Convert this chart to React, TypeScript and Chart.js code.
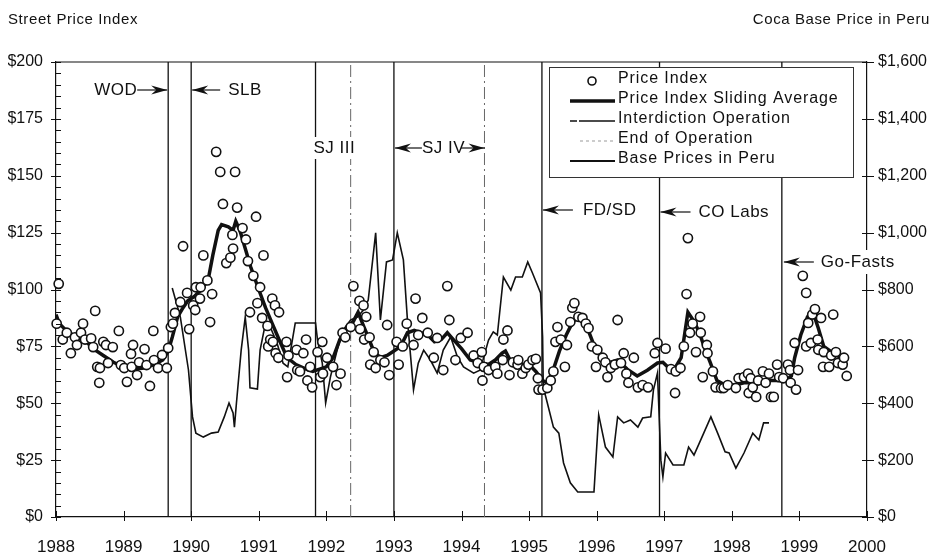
import React, { useEffect, useRef } from 'react';
import { Chart, registerables } from 'chart.js';
Chart.register(...registerables);

// ---------- DATA ----------
const yearTicks = [1988, 1989, 1990, 1991, 1992, 1993, 1994, 1995, 1996, 1997, 1998, 1999, 2000];
const leftTicks = [0, 25, 50, 75, 100, 125, 150, 175, 200];
const rightTicks = [0, 200, 400, 600, 800, 1000, 1200, 1400, 1600];

// Street price index observations (decimal year, index $)
const priceX = [
  1988.01, 1988.04, 1988.10, 1988.16, 1988.22, 1988.28, 1988.31, 1988.37, 1988.40, 1988.43,
  1988.52, 1988.55, 1988.58, 1988.61, 1988.64, 1988.65, 1988.70, 1988.74, 1988.77, 1988.84,
  1988.93, 1988.96, 1989.01, 1989.05, 1989.11, 1989.12, 1989.14, 1989.20, 1989.23, 1989.31,
  1989.34, 1989.39, 1989.44, 1989.45, 1989.51, 1989.57, 1989.64, 1989.66, 1989.70, 1989.73,
  1989.76, 1989.84, 1989.88, 1989.94, 1989.97, 1990.03, 1990.06, 1990.07, 1990.13, 1990.14,
  1990.18, 1990.24, 1990.28, 1990.31, 1990.37, 1990.43, 1990.47, 1990.52, 1990.58, 1990.61,
  1990.62, 1990.65, 1990.68, 1990.76, 1990.81, 1990.84, 1990.87, 1990.92, 1990.96, 1990.98,
  1991.02, 1991.05, 1991.07, 1991.13, 1991.14, 1991.17, 1991.20, 1991.21, 1991.24, 1991.25,
  1991.29, 1991.30, 1991.41, 1991.42, 1991.44, 1991.56, 1991.57, 1991.61, 1991.66, 1991.70,
  1991.72, 1991.76, 1991.79, 1991.87, 1991.91, 1991.94, 1991.95, 1992.01, 1992.10, 1992.15,
  1992.21, 1992.24, 1992.28, 1992.36, 1992.40, 1992.49, 1992.50, 1992.55, 1992.56, 1992.59,
  1992.64, 1992.65, 1992.70, 1992.73, 1992.80, 1992.86, 1992.90, 1992.93, 1993.04, 1993.07,
  1993.13, 1993.19, 1993.29, 1993.32, 1993.36, 1993.42, 1993.50, 1993.59, 1993.64, 1993.73,
  1993.79, 1993.82, 1993.91, 1993.99, 1994.09, 1994.18, 1994.24, 1994.30, 1994.31, 1994.33,
  1994.40, 1994.50, 1994.53, 1994.61, 1994.62, 1994.68, 1994.71, 1994.76, 1994.83, 1994.84,
  1994.90, 1994.95, 1994.99, 1995.05, 1995.10, 1995.13, 1995.14, 1995.20, 1995.27, 1995.32,
  1995.36, 1995.39, 1995.42, 1995.47, 1995.53, 1995.56, 1995.61, 1995.64, 1995.67, 1995.73,
  1995.79, 1995.84, 1995.88, 1995.93, 1995.99, 1996.01, 1996.09, 1996.13, 1996.16, 1996.21,
  1996.27, 1996.31, 1996.36, 1996.40, 1996.44, 1996.47, 1996.55, 1996.61, 1996.68, 1996.76,
  1996.86, 1996.90, 1997.02, 1997.10, 1997.16, 1997.17, 1997.24, 1997.29, 1997.33, 1997.35,
  1997.38, 1997.42, 1997.47, 1997.53, 1997.54, 1997.57, 1997.63, 1997.64, 1997.72, 1997.76,
  1997.84, 1997.88, 1997.94, 1998.06, 1998.10, 1998.18, 1998.24, 1998.25, 1998.28, 1998.31,
  1998.36, 1998.39, 1998.46, 1998.50, 1998.55, 1998.58, 1998.62, 1998.67, 1998.70, 1998.76,
  1998.83, 1998.86, 1998.87, 1998.93, 1998.95, 1998.98, 1999.05, 1999.10, 1999.10, 1999.13,
  1999.17, 1999.19, 1999.23, 1999.27, 1999.28, 1999.32, 1999.35, 1999.36, 1999.44, 1999.47,
  1999.50, 1999.54, 1999.57, 1999.64, 1999.66, 1999.70,
];
const priceY = [
  85, 102.5, 78, 81, 72, 79, 75.6, 81, 85, 78,
  78.5, 74.7, 90.6, 66, 59, 65.5, 77, 75.6, 67.7, 74.7,
  81.8, 66.8, 65.5, 59.4, 71.7, 66, 75.6, 62.4, 68, 73.8,
  66.8, 57.6, 81.8, 69, 65.5, 71.2, 65.5, 74.3, 83.5, 85,
  89.7, 94.5, 119, 98.5, 82.6, 93, 91, 101, 96, 101,
  115, 104, 85.7, 98, 160.5, 151.7, 137.6, 111.6, 114, 124,
  118, 151.7, 136, 127, 122, 112.5, 90, 106, 132, 94,
  101, 87.5, 115, 84, 75, 78, 96, 77, 93, 72,
  70, 90, 77, 61.5, 71, 73.5, 64.6, 64, 72, 78,
  60, 66, 57, 72.5, 61.5, 77, 63, 70, 66, 58,
  63, 81, 79, 83.5, 101.5, 95, 82.6, 93, 78, 88,
  79, 67, 72.5, 65.5, 69, 68, 84.4, 62.4, 77, 67,
  75, 85, 75.6, 96, 80, 87.5, 81, 70, 78.7, 64.6,
  101.5, 86.6, 69, 78.7, 81, 71, 67.7, 72.5, 60, 66,
  64.6, 66, 63, 69, 78, 82, 62.4, 68, 67, 69,
  63, 65.5, 67, 69, 69.5, 61, 56, 56, 56.7, 60,
  64, 77, 83.5, 78, 66, 75.6, 85.7, 92, 94, 88,
  87.5, 85, 83, 75, 66, 73.5, 70, 68, 61.5, 65.5,
  67, 86.6, 67.7, 72, 63, 59, 70, 57, 58, 57,
  72, 76.5, 74, 65, 54.5, 64, 65.5, 75, 98, 122.6,
  81, 85, 72.5, 88, 81, 61.5, 75.6, 72, 64, 57,
  56.7, 56.7, 58, 56.7, 61, 61.5, 63, 54.5, 61, 57,
  52.8, 60, 64, 59, 63, 52.8, 52.8, 67, 61.5, 61,
  67, 64.6, 59, 76.5, 56, 64.6, 106, 98.5, 75, 85.3,
  76.5, 89, 91.4, 78, 73.5, 87.5, 66, 72.5, 66, 71,
  89, 72.5, 67.7, 67, 70, 62,
];

// Sliding average of the price index
const avgX = [
  1988.0, 1988.05, 1988.15, 1988.3, 1988.45, 1988.55, 1988.7, 1988.85, 1989.0, 1989.15,
  1989.3, 1989.45, 1989.58, 1989.66, 1989.72, 1989.8, 1989.88, 1989.95, 1990.05, 1990.15,
  1990.25, 1990.32, 1990.4, 1990.45, 1990.55, 1990.62, 1990.66, 1990.72, 1990.8, 1990.88,
  1991.0, 1991.1, 1991.2, 1991.3, 1991.42, 1991.55, 1991.7, 1991.8, 1991.9, 1992.0,
  1992.1, 1992.2, 1992.3, 1992.4, 1992.47, 1992.55, 1992.62, 1992.7, 1992.8, 1992.9,
  1993.0, 1993.1, 1993.2, 1993.3, 1993.4, 1993.5, 1993.6, 1993.7, 1993.79, 1993.88,
  1994.0, 1994.13, 1994.25, 1994.4, 1994.5, 1994.6, 1994.65, 1994.72, 1994.85, 1995.0,
  1995.1, 1995.2, 1995.27, 1995.35, 1995.45, 1995.55, 1995.65, 1995.76, 1995.85, 1995.98,
  1996.1, 1996.2, 1996.31, 1996.45, 1996.6, 1996.75, 1996.9, 1996.98, 1997.05, 1997.15,
  1997.25, 1997.35, 1997.44, 1997.52, 1997.6, 1997.68, 1997.78, 1997.9, 1998.05, 1998.18,
  1998.38, 1998.53, 1998.68, 1998.8, 1998.88, 1998.93, 1999.02, 1999.12, 1999.2, 1999.28,
  1999.36, 1999.5, 1999.62, 1999.7,
];
const avgY = [
  89, 85, 82, 79, 77, 74, 71, 68, 66, 65,
  65.5, 67, 69, 73, 79, 88, 92, 95, 97, 100,
  104, 115, 126, 128.5, 127.5, 126, 130, 126, 118, 110,
  100, 92, 85, 78, 70, 67, 65, 64, 65, 66,
  70, 78, 83, 86, 90, 84, 79, 73, 70, 71,
  73, 75, 81, 82, 81, 80, 77, 78, 81, 78,
  74, 69, 68, 67, 69, 72, 73, 69, 67, 67,
  64, 60, 59, 64, 73, 80, 86, 88, 84, 74,
  69, 68, 69, 65, 62, 64.5, 67.7, 68, 66, 65,
  70, 90, 86, 81, 74, 68, 60, 58, 58, 59,
  59, 60, 60, 60, 62, 70, 80, 88, 90, 83,
  75, 72, 70, 67,
];

// Coca base price in Peru (right axis, $)
const baseX = [
  1989.72, 1989.84, 1989.96, 1990.02, 1990.07, 1990.18, 1990.3, 1990.4, 1990.49, 1990.56,
  1990.62, 1990.64, 1990.67, 1990.74, 1990.8, 1990.85, 1990.87, 1990.98, 1991.02, 1991.1,
  1991.17, 1991.27, 1991.36, 1991.43, 1991.54, 1991.84, 1991.87, 1991.94, 1991.99, 1992.06,
  1992.16, 1992.25, 1992.36, 1992.46, 1992.55, 1992.62, 1992.73, 1992.8, 1992.89, 1992.98,
  1993.05, 1993.14, 1993.2, 1993.29, 1993.36, 1993.44, 1993.54, 1993.64, 1993.73, 1993.84,
  1993.94, 1994.03, 1994.18, 1994.28, 1994.33, 1994.4, 1994.47, 1994.53, 1994.62, 1994.73,
  1994.8, 1994.9, 1994.98, 1995.05, 1995.17, 1995.2, 1995.21, 1995.27, 1995.36, 1995.44,
  1995.51, 1995.61, 1995.72, 1995.96, 1996.03, 1996.13, 1996.24, 1996.31, 1996.4, 1996.5,
  1996.61, 1996.68, 1996.8, 1996.84, 1996.9, 1996.95, 1996.98, 1997.02, 1997.13, 1997.29,
  1997.36, 1997.44, 1997.54, 1997.69, 1997.79, 1997.9, 1997.96, 1998.06, 1998.18, 1998.31,
  1998.4, 1998.47, 1998.55,
];
const baseY = [
  805, 703, 517, 352, 295, 281, 295, 299, 352, 401,
  366, 316, 401, 587, 703, 587, 454, 450, 587, 682,
  668, 612, 541, 528, 682, 682, 622, 541, 401, 492,
  587, 658, 693, 703, 728, 763, 999, 693, 897, 904,
  999, 904, 693, 447, 541, 587, 552, 506, 587, 633,
  563, 528, 506, 517, 563, 622, 651, 640, 844, 798,
  844, 844, 897, 858, 788, 633, 457, 401, 316, 295,
  190, 120, 88, 88, 359, 246, 211, 352, 331, 341,
  316, 348, 352, 447, 506, 200, 141, 225, 183, 183,
  246, 218, 271, 352, 295, 229, 225, 172, 225, 295,
  271, 331, 331,
];

// Operations
const interdictionYears = [1989.66, 1990.0, 1991.84, 1993.0, 1995.19, 1996.93, 1998.74];
const interdictionLabels = ['WOD', 'SLB', 'SJ III', 'SJ IV', 'FD/SD', 'CO Labs', 'Go-Fasts'];
const endYears = [1992.36, 1994.34];

const legendLabels = ['Price Index', 'Price Index Sliding Average', 'Interdiction Operation', 'End of Operation', 'Base Prices in Peru'];

// ---------- helpers ----------
const FONT = '"Liberation Sans", Arial, Helvetica, sans-serif';
const INK = '#111';
const pts = (xs: number[], ys: number[]) => xs.map((x, i) => ({ x, y: ys[i] }));
const vlines = (years: number[]) => years.flatMap((x) => [{ x, y: 0 }, { x, y: 200 }, { x, y: null as any }]);

function arrowHead(ctx: CanvasRenderingContext2D, tipX: number, y: number, dir: number) {
  ctx.beginPath();
  ctx.moveTo(tipX, y);
  ctx.lineTo(tipX - dir * 16, y - 4.5);
  ctx.lineTo(tipX - dir * 11, y);
  ctx.lineTo(tipX - dir * 16, y + 4.5);
  ctx.closePath();
  ctx.fill();
}
function arrow(ctx: CanvasRenderingContext2D, tailX: number, tipX: number, y: number) {
  ctx.beginPath();
  ctx.moveTo(tailX, y);
  ctx.lineTo(tipX, y);
  ctx.lineWidth = 1.2;
  ctx.stroke();
  arrowHead(ctx, tipX, y, tipX > tailX ? 1 : -1);
}
function textBg(ctx: CanvasRenderingContext2D, text: string, x: number, y: number, align: CanvasTextAlign, padX = 2, padY = 10) {
  const w = ctx.measureText(text).width;
  const left = align === 'left' ? x : align === 'right' ? x - w : x - w / 2;
  ctx.fillStyle = '#fff';
  ctx.fillRect(left - padX, y - padY, w + padX * 2, padY * 2);
  ctx.fillStyle = INK;
  ctx.textAlign = align;
  ctx.fillText(text, x, y);
}

const overlay = {
  id: 'overlay',
  afterDraw(chart: any) {
    const ctx: CanvasRenderingContext2D = chart.ctx;
    const { left, right, top, bottom } = chart.chartArea;
    const xs = chart.scales.x;
    const ys = chart.scales.y;
    const y2 = chart.scales.y2;
    ctx.save();
    ctx.strokeStyle = INK;
    ctx.fillStyle = INK;
    // top frame line
    ctx.lineWidth = 1.2;
    ctx.beginPath();
    ctx.moveTo(left, top);
    ctx.lineTo(right, top);
    ctx.stroke();
    // tick marks
    ctx.lineWidth = 1;
    ctx.beginPath();
    for (let v = 0; v <= 200; v += 5) {
      const py = Math.round(ys.getPixelForValue(v)) + 0.5;
      if (v % 25 === 0) { ctx.moveTo(left - 5, py); ctx.lineTo(left + 5, py); }
      else { ctx.moveTo(left, py); ctx.lineTo(left + 5, py); }
    }
    rightTicks.forEach((v) => {
      const py = Math.round(y2.getPixelForValue(v)) + 0.5;
      ctx.moveTo(right - 5, py); ctx.lineTo(right + 7, py);
    });
    yearTicks.forEach((v) => {
      const px = Math.round(xs.getPixelForValue(v)) + 0.5;
      ctx.moveTo(px, bottom - 6); ctx.lineTo(px, bottom + 4);
    });
    ctx.stroke();

    // axis titles
    ctx.font = `15px ${FONT}`;
    (ctx as any).letterSpacing = '0.6px';
    ctx.textBaseline = 'middle';
    ctx.textAlign = 'left';
    ctx.fillText('Street Price Index', 8, 20);
    ctx.textAlign = 'right';
    ctx.fillText('Coca Base Price in Peru', 930, 20);

    // operation labels
    ctx.font = `17px ${FONT}`;
    (ctx as any).letterSpacing = '0.5px';
    const lx = interdictionYears.map((v) => xs.getPixelForValue(v));
    const ex = endYears.map((v) => xs.getPixelForValue(v));
    // WOD
    textBg(ctx, interdictionLabels[0], lx[0] - 31, 90, 'right', 1, 9);
    arrow(ctx, lx[0] - 31, lx[0] - 1, 90);
    // SLB
    arrow(ctx, lx[1] + 29, lx[1] + 1, 90);
    textBg(ctx, interdictionLabels[1], lx[1] + 37, 90, 'left', 1, 9);
    // SJ III
    textBg(ctx, interdictionLabels[2], lx[2] - 2, 148, 'left', 2, 11);
    // SJ IV (double arrow to end of operation)
    const sjText = lx[3] + 28;
    textBg(ctx, interdictionLabels[3], sjText, 148, 'left', 1, 10);
    arrow(ctx, sjText, lx[3] + 1, 148);
    const sjW = ctx.measureText(interdictionLabels[3]).width;
    arrow(ctx, sjText + sjW - 4, ex[1], 148);
    // FD/SD
    arrow(ctx, lx[4] + 31, lx[4] + 1, 210);
    textBg(ctx, interdictionLabels[4], lx[4] + 41, 210, 'left', 2, 10);
    // CO Labs
    arrow(ctx, lx[5] + 31, lx[5] + 1, 212);
    textBg(ctx, interdictionLabels[5], lx[5] + 39, 212, 'left', 2, 10);
    // Go-Fasts
    arrow(ctx, lx[6] + 32, lx[6] + 2, 262);
    textBg(ctx, interdictionLabels[6], lx[6] + 39, 262, 'left', 3, 12);

    // legend
    const bx = 549, by = 67, bw = 304, bh = 110;
    ctx.fillStyle = '#fff';
    ctx.fillRect(bx, by, bw, bh);
    ctx.lineWidth = 1;
    ctx.strokeStyle = '#333';
    ctx.strokeRect(bx + 0.5, by + 0.5, bw, bh);
    ctx.font = `16px ${FONT}`;
    (ctx as any).letterSpacing = '0.9px';
    ctx.textAlign = 'left';
    ctx.fillStyle = INK;
    const rows = [79, 99, 119, 139, 159];
    const sx0 = 570, sx1 = 615, tx = 618;
    legendLabels.forEach((t, i) => ctx.fillText(t, tx, rows[i]));
    // sample: circle
    ctx.beginPath();
    ctx.arc(592, rows[0] + 2, 4, 0, Math.PI * 2);
    ctx.fillStyle = '#fff';
    ctx.fill();
    ctx.lineWidth = 1.6;
    ctx.strokeStyle = INK;
    ctx.stroke();
    // sliding average
    ctx.lineWidth = 3.5;
    ctx.beginPath(); ctx.moveTo(sx0, rows[1] + 2); ctx.lineTo(sx1, rows[1] + 2); ctx.stroke();
    // interdiction
    ctx.lineWidth = 1.3;
    ctx.setLineDash([7, 2, 40]);
    ctx.beginPath(); ctx.moveTo(sx0, rows[2] + 2); ctx.lineTo(sx1, rows[2] + 2); ctx.stroke();
    // end of operation
    ctx.strokeStyle = '#999';
    ctx.lineWidth = 1;
    ctx.setLineDash([3, 3]);
    ctx.beginPath(); ctx.moveTo(sx0 + 10, rows[3] + 2); ctx.lineTo(sx1, rows[3] + 2); ctx.stroke();
    ctx.setLineDash([]);
    // base prices
    ctx.strokeStyle = INK;
    ctx.lineWidth = 1.8;
    ctx.beginPath(); ctx.moveTo(sx0, rows[4] + 2); ctx.lineTo(sx1, rows[4] + 2); ctx.stroke();
    ctx.restore();
  },
};

const tickFont = { family: FONT, size: 16 };

export default function App() {
  const ref = useRef<HTMLCanvasElement>(null);
  useEffect(() => {
    const canvas = ref.current!;
    const chart = new Chart(canvas, {
      type: 'line',
      data: {
        datasets: [
          {
            label: legendLabels[0],
            data: pts(priceX, priceY),
            showLine: false,
            pointRadius: 4.6,
            pointBackgroundColor: '#fff',
            pointBorderColor: INK,
            pointBorderWidth: 1.6,
            clip: false,
            yAxisID: 'y',
          },
          {
            label: legendLabels[1],
            data: pts(avgX, avgY),
            borderColor: INK,
            borderWidth: 3.5,
            pointRadius: 0,
            tension: 0,
            yAxisID: 'y',
          },
          {
            label: legendLabels[4],
            data: pts(baseX, baseY),
            borderColor: INK,
            borderWidth: 1.6,
            pointRadius: 0,
            tension: 0,
            yAxisID: 'y2',
          },
          {
            label: legendLabels[2],
            data: vlines(interdictionYears),
            borderColor: INK,
            borderWidth: 1.3,
            pointRadius: 0,
            spanGaps: false,
            yAxisID: 'y',
          },
          {
            label: legendLabels[3],
            data: vlines(endYears),
            borderColor: '#666',
            borderWidth: 1,
            borderDash: [12, 4, 2, 4],
            pointRadius: 0,
            spanGaps: false,
            yAxisID: 'y',
          },
        ] as any,
      },
      options: {
        animation: false,
        responsive: false,
        maintainAspectRatio: false,
        layout: { padding: { top: 62, left: 8, right: 0, bottom: 0 } },
        plugins: { legend: { display: false }, tooltip: { enabled: false }, title: { display: false } },
        scales: {
          x: {
            type: 'linear',
            min: 1988,
            max: 2000,
            position: 'bottom',
            grid: { display: false, drawTicks: false },
            border: { display: true, color: INK, width: 1.2 },
            ticks: {
              autoSkip: false,
              maxRotation: 0,
              padding: 20,
              color: INK,
              font: { family: FONT, size: 17 },
              callback: (v: any) => String(v),
            },
            afterBuildTicks: (s: any) => { s.ticks = yearTicks.map((v) => ({ value: v })); },
            afterFit: (s: any) => { s.height = 37; },
          },
          y: {
            min: 0,
            max: 200,
            position: 'left',
            grid: { display: false, drawTicks: false },
            border: { display: true, color: INK, width: 1.2 },
            ticks: { padding: 13, color: INK, font: tickFont, callback: (v: any) => '$' + v },
            afterBuildTicks: (s: any) => { s.ticks = leftTicks.map((v) => ({ value: v })); },
            afterFit: (s: any) => { s.width = 48; },
          },
          y2: {
            min: 0,
            max: 1600,
            position: 'right',
            grid: { display: false, drawTicks: false },
            border: { display: true, color: INK, width: 1.2 },
            ticks: {
              padding: 11,
              color: INK,
              font: tickFont,
              callback: (v: any) => '$' + Number(v).toLocaleString('en-US'),
            },
            afterBuildTicks: (s: any) => { s.ticks = rightTicks.map((v) => ({ value: v })); },
            afterFit: (s: any) => { s.width = 73; },
          },
        },
      } as any,
      plugins: [overlay],
    });
    return () => chart.destroy();
  }, []);
  return (
    <div style={{ position: 'absolute', left: 0, top: 0, width: 940, height: 554, background: '#fff' }}>
      <canvas ref={ref} width={940} height={554} style={{ display: 'block', width: 940, height: 554 }} />
    </div>
  );
}
